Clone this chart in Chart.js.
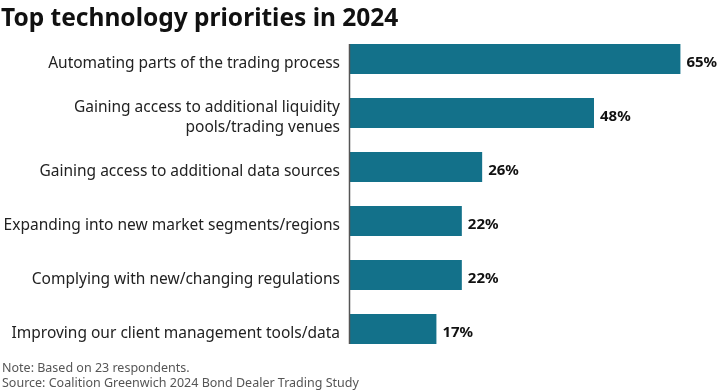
<!DOCTYPE html>
<html>
<head>
<meta charset="utf-8">
<script src="https://cdn.jsdelivr.net/npm/chart.js@4"></script>
<style>
  html, body { margin: 0; padding: 0; background: #fff; }
  #wrap { width: 720px; height: 391px; position: relative; }
</style>
</head>
<body>
<div id="wrap"><canvas id="chart" width="720" height="391"></canvas></div>
<script>
let categories = [
    "Automating parts of the trading process",
    ["Gaining access to additional liquidity", "pools/trading venues"],
    "Gaining access to additional data sources",
    "Expanding into new market segments/regions",
    "Complying with new/changing regulations",
    "Improving our client management tools/data"
];
let values = [65, 48, 26, 22, 22, 17];

let titleText = "Top technology priorities in 2024";
let notes = [
    "Note: Based on 23 respondents.",
    "Source: Coalition Greenwich 2024 Bond Dealer Trading Study"
];

let fontName = "'Noto Sans', sans-serif";
let barColor = "#13718a";

// value labels, axis line, title and footnotes
let extras = {
    id: "extras",
    afterDatasetsDraw(chart) {
        let ctx = chart.ctx;
        let meta = chart.getDatasetMeta(0);
        ctx.save();
        ctx.fillStyle = "#111";
        ctx.font = "bold 15px " + fontName;
        ctx.textBaseline = "middle";
        ctx.textAlign = "left";
        meta.data.forEach((bar, i) => {
            ctx.fillText(values[i] + "%", bar.x + 6, bar.y + 3.5);
        });

        // vertical axis line from first bar top to last bar bottom
        let first = meta.data[0], last = meta.data[meta.data.length - 1];
        let x = chart.chartArea.left - 0.5;
        ctx.strokeStyle = "#555";
        ctx.lineWidth = 1.5;
        ctx.beginPath();
        ctx.moveTo(x, first.y - first.height / 2);
        ctx.lineTo(x, last.y + last.height / 2);
        ctx.stroke();

        ctx.fillStyle = "#111";
        ctx.font = "bold 24.5px " + fontName;
        ctx.textBaseline = "alphabetic";
        ctx.fillText(titleText, 1, 26);

        ctx.fillStyle = "#555";
        ctx.font = "12.5px " + fontName;
        ctx.fillText(notes[0], 2, 372);
        ctx.fillText(notes[1], 2, 387);
        ctx.restore();
    }
};

new Chart(document.getElementById("chart"), {
    type: "bar",
    data: {
        labels: categories,
        datasets: [{
            data: values,
            backgroundColor: barColor,
            borderWidth: 0,
            barPercentage: 0.556,
            categoryPercentage: 1
        }]
    },
    options: {
        indexAxis: "y",
        responsive: false,
        animation: false,
        layout: { padding: { top: 32, bottom: 35, right: 4, left: 0 } },
        plugins: {
            legend: { display: false },
            title: { display: false },
            tooltip: { enabled: false }
        },
        scales: {
            x: {
                display: false,
                min: 0,
                max: 72
            },
            y: {
                grid: { display: false, drawTicks: false },
                border: { display: false },
                ticks: {
                    color: "#222",
                    padding: 10,
                    labelOffset: 5,
                    font: { family: fontName, size: 15.5, lineHeight: 1.3 }
                },
                afterFit(scale) { scale.width = 350; }
            }
        }
    },
    plugins: [extras]
});
</script>
</body>
</html>
